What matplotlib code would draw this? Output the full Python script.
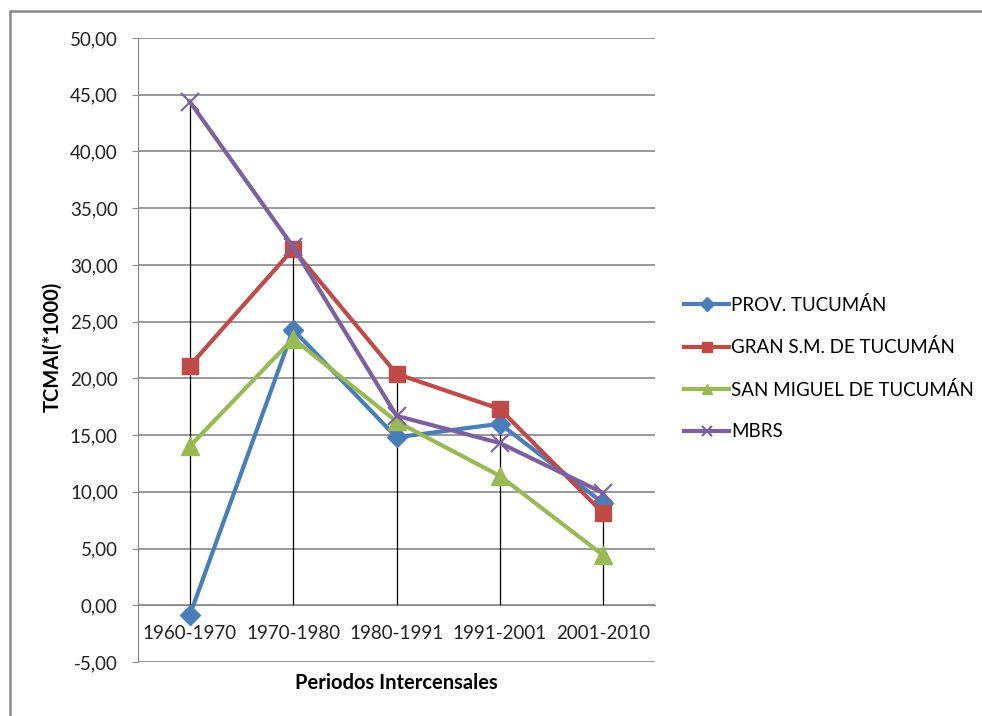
import numpy as np
import matplotlib
matplotlib.use("Agg")
from matplotlib import pyplot as plt
from matplotlib.patches import Rectangle
from matplotlib.ticker import FuncFormatter

periodos = ['1960-1970', '1970-1980', '1980-1991', '1991-2001', '2001-2010']
prov_tucuman = [-0.9, 24.3, 14.8, 16.0, 9.0]
gran_sm = [21.1, 31.4, 20.4, 17.3, 8.1]
san_miguel = [14.0, 23.5, 16.2, 11.4, 4.4]
mbrs = [44.4, 31.6, 16.7, 14.3, 9.9]

series = [
    ('PROV. TUCUMÁN', prov_tucuman, '#4A7EBB', 'D', 10),
    ('GRAN S.M. DE TUCUMÁN', gran_sm, '#BE4B48', 's', 12),
    ('SAN MIGUEL DE TUCUMÁN', san_miguel, '#98B954', '^', 13),
    ('MBRS', mbrs, '#7D60A0', 'x', 13),
]

plt.rcParams['font.family'] = ['Lato', 'DejaVu Sans']

fig = plt.figure(figsize=(9.82, 7.16), dpi=100)
ax = fig.add_axes([138 / 982, 1 - 662 / 716, 517 / 982, 624 / 716])

# borde exterior del grafico
fig.patches.append(Rectangle((10 / 982, -0.1), 1.2, 1 - 11 / 716 + 0.1,
                             transform=fig.transFigure, fill=False,
                             edgecolor='#888888', linewidth=1.8))

x = np.arange(len(periodos))

# lineas de proyeccion
data = np.array([s[1] for s in series])
lo = np.minimum(data.min(axis=0), 0)
hi = np.maximum(data.max(axis=0), 0)
ax.vlines(x, lo, hi, color='black', linewidth=0.9, zorder=2)

for nombre, vals, color, mk, ms in series:
    if mk == 'x':
        ax.plot(x, vals, color=color, linewidth=3, marker=mk, markersize=ms,
                markeredgewidth=1.5, label=nombre, zorder=3)
    else:
        ax.plot(x, vals, color=color, linewidth=3, marker=mk, markersize=ms,
                markeredgecolor=color, label=nombre, zorder=3)

ax.set_xlim(-0.5, len(periodos) - 0.5)
ax.set_ylim(-5, 50)
ax.set_yticks(np.arange(-5, 51, 5))
ax.yaxis.set_major_formatter(FuncFormatter(lambda v, p: f'{v:.2f}'.replace('.', ',')))
ax.grid(axis='y', color='#888888', linewidth=1.2)
ax.set_axisbelow(True)

ax.spines['top'].set_visible(False)
ax.spines['right'].set_visible(False)
ax.spines['left'].set_color('#888888')
ax.spines['bottom'].set_position(('data', 0))
ax.spines['bottom'].set_color('#888888')

ax.set_xticks(x)
ax.set_xticklabels(periodos)
ax.tick_params(axis='x', length=0, pad=14, labelsize=13.5, colors='#222222')
ax.tick_params(axis='y', length=4.5, color='#888888', labelsize=13.5,
               labelcolor='#222222', pad=10)

fig.text(52 / 982, 1 - 347 / 716, 'TCMAI(*1000)', fontsize=14.5,
         fontweight='bold', ha='center', va='center', rotation=90)
fig.text(396 / 982, 1 - 683 / 716, 'Periodos Intercensales', fontsize=14.5,
         fontweight='bold', ha='center', va='center')

leg = ax.legend(loc='center left', bbox_to_anchor=(684 / 982, 1 - 368 / 716),
                bbox_transform=fig.transFigure, frameon=False, fontsize=13.5,
                handlelength=2.4, handletextpad=0.1, labelspacing=1.3,
                borderpad=0, borderaxespad=0)
for ln in leg.get_lines():
    ln.set_markersize(7)

fig.savefig('out.png', dpi=100)
